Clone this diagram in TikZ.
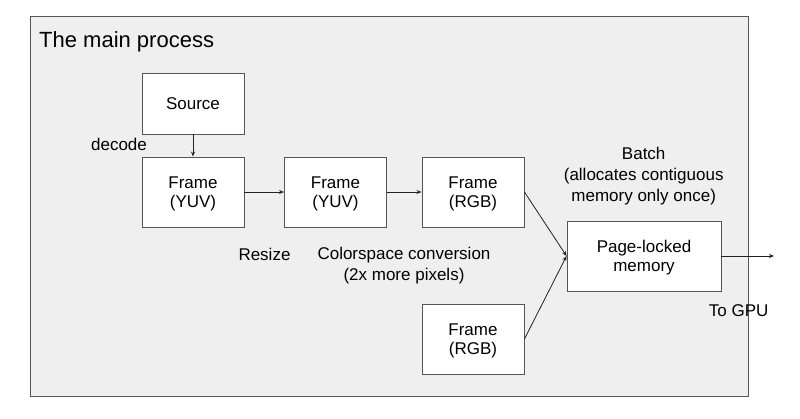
\documentclass[tikz,border=0pt]{standalone}
\usepackage{fontspec}
\setmainfont{Liberation Sans}
\usetikzlibrary{arrows.meta}
\definecolor{panelfill}{HTML}{EFEFEF}
\definecolor{edgegray}{HTML}{555555}
\definecolor{linecol}{HTML}{222222}
\begin{document}
\begin{tikzpicture}[x=1pt,y=-1pt,
  box/.style={draw=edgegray, line width=0.9pt, fill=white, align=center, inner sep=0pt,
    text depth=0pt, font=\fontsize{17}{19.5}\selectfont},
  lbl/.style={align=center, inner sep=0pt, font=\fontsize{17}{21}\selectfont},
  conn/.style={draw=linecol, line width=0.8pt, -{Stealth[length=5pt,width=4pt]}}
]
\useasboundingbox (0,0) rectangle (800,418);
\node[draw=edgegray, line width=1pt, fill=panelfill, minimum width=718pt, minimum height=380pt, inner sep=0pt] (panel) at (389,206) {};
\node[anchor=base west, inner sep=0pt, font=\fontsize{22}{26}\selectfont] (title) at (39,47) {The main process};
\node[box, minimum width=102pt, minimum height=61pt] (src) at (193,103.5) {Source};
\node[box, minimum width=102pt, minimum height=70pt] (f1) at (193,192) {Frame\\(YUV)};
\node[box, minimum width=102pt, minimum height=70pt] (f2) at (335.5,192) {Frame\\(YUV)};
\node[box, minimum width=102pt, minimum height=70pt] (f3) at (473,192) {Frame\\(RGB)};
\node[box, minimum width=102pt, minimum height=70pt] (f4) at (473,339) {Frame\\(RGB)};
\node[box, minimum width=154pt, minimum height=70pt] (pl) at (644,256) {Page-locked\\memory};
\coordinate (gpu) at (774,256);
\node[lbl] (decode) at (119,144) {decode};
\node[lbl] (resize) at (264.5,254.5) {Resize};
\node[lbl, anchor=north] (csc) at (404,246.5) {Colorspace conversion\\(2x more pixels)};
\node[lbl, anchor=north] (batch) at (643.7,147) {Batch\\(allocates contiguous\\memory only once)};
\node[lbl] (togpu) at (738.7,311) {To GPU};
\draw[conn] (src) -- (f1);
\draw[conn] (f1) -- (f2);
\draw[conn] (f2) -- (f3);
\draw[conn] (f3.east) -- (pl.west);
\draw[conn] (f4.east) -- (pl.west);
\draw[conn] (pl.east) -- (gpu);
\end{tikzpicture}
\end{document}
